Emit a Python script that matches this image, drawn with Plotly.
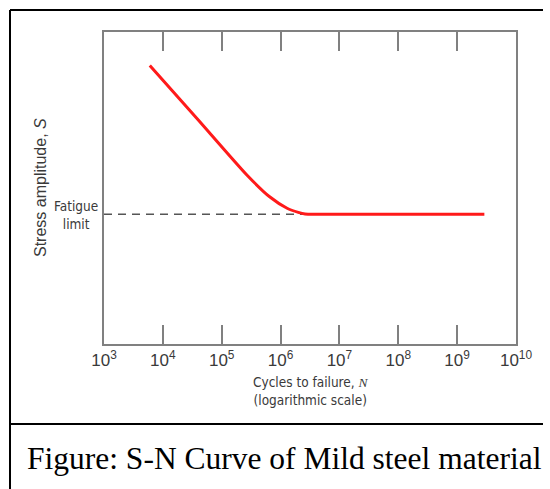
import plotly.graph_objects as go

# ---- data ----
cycles = [6.0e3, 4.0e4, 2.7e5, 6.6e5, 1.29e6, 2.0e6, 2.6e6, 4.0e6, 2.9e9]
stress = [0.893, 0.718, 0.541, 0.471, 0.435, 0.422, 0.417, 0.416, 0.416]
fatigue_limit = 0.416
knee_cycles = 2.6e6
tick_vals = [1e3, 1e4, 1e5, 1e6, 1e7, 1e8, 1e9, 1e10]
tick_text = ["10<sup>3</sup>", "10<sup>4</sup>", "10<sup>5</sup>", "10<sup>6</sup>",
             "10<sup>7</sup>", "10<sup>8</sup>", "10<sup>9</sup>", "10<sup>10</sup>"]
caption = "Figure: S-N Curve of Mild steel material"

W, H = 550, 489
L, R, T, B = 104, 34, 32, 145
pw, ph = W - L - R, H - T - B

def px(x):
    return (x - L) / pw

def py(y):
    return (H - B - y) / ph

SANS = "Liberation Sans, Arial, sans-serif"
NARROW = "Liberation Sans Narrow, DejaVu Sans Condensed, Liberation Sans, sans-serif"
SERIF = "Liberation Serif, Times New Roman, serif"
GREY = "#808080"
TXT = "#3a3a3a"

fig = go.Figure()
fig.add_trace(go.Scatter(
    x=[tick_vals[0], knee_cycles], y=[fatigue_limit, fatigue_limit],
    mode="lines", line=dict(color="#555555", width=1.5, dash="8px,6px"),
    hoverinfo="skip", showlegend=False))
fig.add_trace(go.Scatter(
    x=cycles, y=stress, mode="lines",
    line=dict(color="#ff1a1a", width=3, shape="spline", smoothing=0.6),
    showlegend=False))

fig.update_layout(
    width=W, height=H,
    margin=dict(l=L, r=R, t=T, b=B),
    paper_bgcolor="white", plot_bgcolor="white",
    font=dict(family=SANS, size=13, color=TXT),
    xaxis=dict(type="log", range=[3, 10], tickvals=tick_vals, ticktext=tick_text,
               ticks="inside", ticklen=19, tickwidth=1.5, tickcolor=GREY,
               showline=True, linecolor=GREY, linewidth=1.5, mirror="ticks",
               showgrid=False, zeroline=False,
               tickfont=dict(family=SANS, size=17, color=TXT)),
    yaxis=dict(range=[0, 1], showticklabels=False, ticks="",
               showline=True, linecolor=GREY, linewidth=1.5, mirror=True,
               showgrid=False, zeroline=False),
)

annos = [
    dict(text="Cycles to failure, <span style='font-family:Liberation Serif'><i>N</i></span><br>(logarithmic scale)",
         x=px(310), y=py(391), font=dict(family=NARROW, size=13.5, color=TXT)),
    dict(text="Stress amplitude, <i>S</i>", x=px(40), y=py(188), textangle=-90,
         font=dict(family=SANS, size=16, color=TXT)),
    dict(text="Fatigue<br>limit", x=px(76), y=py(215),
         font=dict(family=NARROW, size=13.5, color=TXT)),
    dict(text=caption, x=px(284), y=py(458), font=dict(family=SERIF, size=31.5, color="black")),
]
for a in annos:
    fig.add_annotation(xref="paper", yref="paper", showarrow=False,
                       xanchor="center", yanchor="middle", **a)

# outer frame lines
for (x0, y0, x1, y1) in [(10, 10, 543, 10), (10, 10, 10, 489), (10, 424, 543, 424)]:
    fig.add_shape(type="line", xref="paper", yref="paper",
                  x0=px(x0), y0=py(y0), x1=px(x1), y1=py(y1),
                  line=dict(color="black", width=2))

fig.write_html("out.html", config={"displayModeBar": False},
               post_script="document.body.style.margin='0px';")
